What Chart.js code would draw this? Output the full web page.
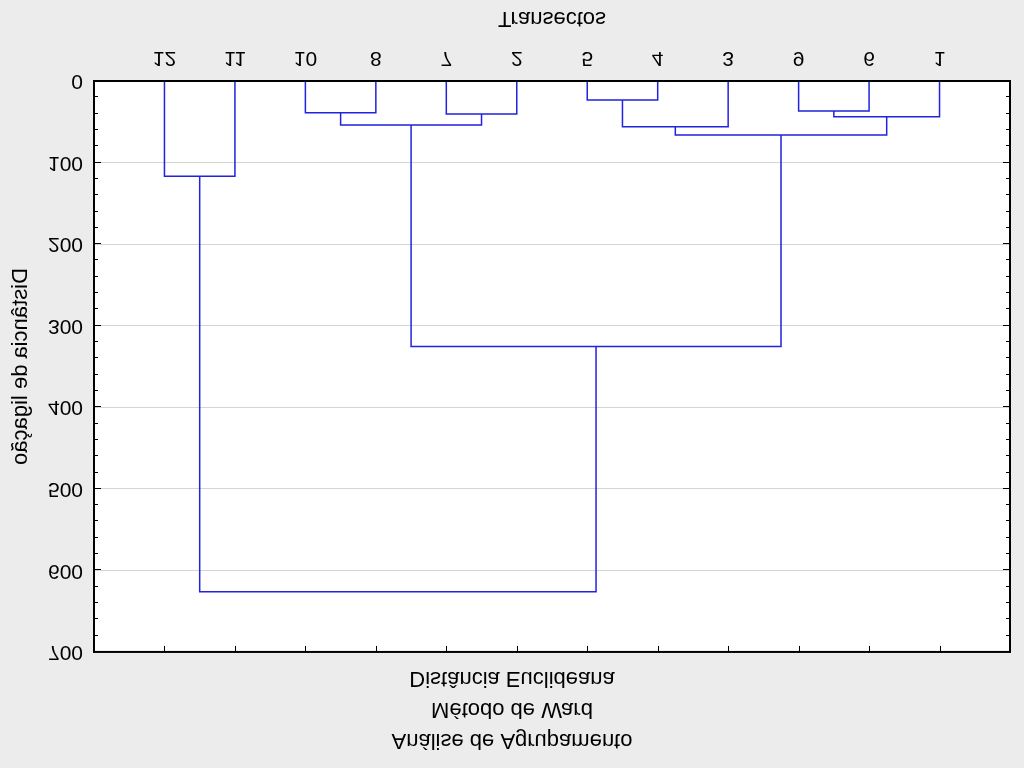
<!DOCTYPE html>
<html>
<head>
<meta charset="utf-8">
<title>Análise de Agrupamento</title>
<script src="https://cdn.jsdelivr.net/npm/chart.js@4.4.1/dist/chart.umd.min.js"></script>
<style>
  html, body { margin: 0; padding: 0; background: #ececec; }
  /* the reference picture is mirrored top-to-bottom */
  #dendro { display: block; transform: scaleY(-1); }
</style>
</head>
<body>
<canvas id="dendro" width="1024" height="768"></canvas>
<script>
// leaf order along the x axis
const leafLabels = ['12', '11', '10', '8', '7', '2', '5', '4', '3', '9', '6', '1'];

// linkage: node 12 + i joins mergeLeft[i] and mergeRight[i] at mergeHeight[i]
const mergeLeft = [0, 2, 4, 13, 6, 16, 9, 18, 17, 15, 12];
const mergeRight = [1, 3, 5, 14, 7, 8, 10, 11, 19, 20, 21];
const mergeHeight = [116.7, 38.9, 40.5, 54.0, 23.3, 56.1, 36.8, 43.8, 66.3, 325.4, 626.3];

const yTicks = [0, 100, 200, 300, 400, 500, 600, 700];

const FONT = "'Liberation Sans', Arial, sans-serif";
const LINE_COLOR = '#2222e0';

// build the U shaped links from the linkage
const nodeX = leafLabels.map((_, i) => i + 1);
const nodeH = leafLabels.map(() => 0);
const links = [];
for (let i = 0; i < mergeLeft.length; i++) {
    const a = mergeLeft[i], b = mergeRight[i], h = mergeHeight[i];
    links.push([
        { x: nodeX[a], y: nodeH[a] },
        { x: nodeX[a], y: h },
        { x: nodeX[b], y: h },
        { x: nodeX[b], y: nodeH[b] },
    ]);
    nodeX.push((nodeX[a] + nodeX[b]) / 2);
    nodeH.push(h);
}

const datasets = links.map(pts => ({
    data: pts,
    borderColor: LINE_COLOR,
    borderWidth: 1.5,
    pointRadius: 0,
    tension: 0,
    fill: false,
}));

// background, frame and inward tick marks
const framePlugin = {
    id: 'frame',
    beforeDraw(chart) {
        const { ctx, chartArea: a } = chart;
        ctx.save();
        ctx.fillStyle = '#ececec';
        ctx.fillRect(0, 0, chart.width, chart.height);
        ctx.fillStyle = '#ffffff';
        ctx.fillRect(a.left, a.top, a.right - a.left, a.bottom - a.top);
        ctx.restore();
    },
    afterDraw(chart) {
        const { ctx, chartArea: a, scales } = chart;
        ctx.save();
        ctx.strokeStyle = '#000000';
        ctx.lineWidth = 1;
        ctx.beginPath();
        for (let v = 0; v <= 700; v += 20) {
            const y = Math.round(scales.y.getPixelForValue(v)) + 0.5;
            const len = v % 100 === 0 ? 7 : 4;
            ctx.moveTo(a.left, y); ctx.lineTo(a.left + len, y);
            ctx.moveTo(a.right, y); ctx.lineTo(a.right - len, y);
        }
        for (let i = 1; i <= leafLabels.length; i++) {
            const x = Math.round(scales.x.getPixelForValue(i)) + 0.5;
            ctx.moveTo(x, a.top); ctx.lineTo(x, a.top + 6);
        }
        ctx.stroke();
        ctx.lineWidth = 2;
        ctx.strokeRect(a.left, a.top, a.right - a.left, a.bottom - a.top);
        ctx.restore();
    }
};

new Chart(document.getElementById('dendro'), {
    type: 'line',
    data: { datasets },
    options: {
        responsive: false,
        animation: false,
        layout: { padding: 0 },
        plugins: {
            legend: { display: false },
            tooltip: { enabled: false },
            title: {
                display: true,
                text: ['Análise de Agrupamento', 'Método de Ward', 'Distância Euclideana'],
                color: '#000',
                font: { family: FONT, size: 22, weight: 'normal', lineHeight: 1.41 },
                padding: { top: 12, bottom: 11 },
            },
        },
        scales: {
            x: {
                type: 'linear',
                min: 0,
                max: 13,
                afterFit(s) { s.height = 81; },
                grid: { display: false, drawTicks: false },
                border: { display: false },
                ticks: {
                    stepSize: 1,
                    autoSkip: false,
                    maxRotation: 0,
                    padding: 11,
                    color: '#000',
                    font: { family: FONT, size: 21 },
                    callback: v => leafLabels[v - 1] || '',
                },
                title: {
                    display: true,
                    text: 'Transectos',
                    color: '#000',
                    font: { family: FONT, size: 22 },
                    padding: { top: 8, bottom: 5 },
                },
            },
            y: {
                type: 'linear',
                min: 0,
                max: 700,
                afterFit(s) { s.width = 94; },
                afterBuildTicks(s) { s.ticks = yTicks.map(v => ({ value: v })); },
                border: { display: false },
                grid: {
                    drawTicks: false,
                    color: ctx => (ctx.tick && (ctx.tick.value === 0 || ctx.tick.value === 700)) ? 'rgba(0,0,0,0)' : '#d4d4d4',
                    lineWidth: 1,
                    borderDash: [1, 1],
                },
                ticks: {
                    padding: 11,
                    color: '#000',
                    font: { family: FONT, size: 21 },
                },
                title: {
                    display: true,
                    text: 'Distância de ligação',
                    color: '#000',
                    font: { family: FONT, size: 22 },
                    padding: { top: 8, bottom: 0 },
                },
            },
            // empty right-hand strip so the plot ends where the reference's does
            yRight: {
                type: 'linear',
                position: 'right',
                min: 0,
                max: 700,
                afterFit(s) { s.width = 14; },
                grid: { display: false, drawTicks: false },
                border: { display: false },
                ticks: { display: false },
            },
        },
    },
    plugins: [framePlugin],
});
</script>
</body>
</html>
